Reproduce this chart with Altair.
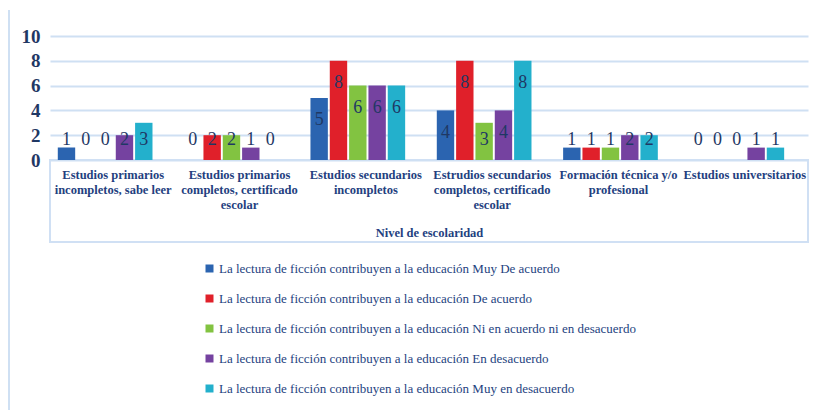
import altair as alt
import pandas as pd

categories = [
    "Estudios primarios|incompletos, sabe leer",
    "Estudios primarios|completos, certificado|escolar",
    "Estudios secundarios|incompletos",
    "Estrudios secundarios|completos, certificado|escolar",
    "Formación técnica y/o|profesional",
    "Estudios universitarios",
]
series = [
    "La lectura de ficción contribuyen a la educación Muy De acuerdo",
    "La lectura de ficción contribuyen a la educación De acuerdo",
    "La lectura de ficción contribuyen a la educación Ni en acuerdo ni en desacuerdo",
    "La lectura de ficción contribuyen a la educación En desacuerdo",
    "La lectura de ficción contribuyen a la educación Muy en desacuerdo",
]
muy_de_acuerdo = [1, 0, 5, 4, 1, 0]
de_acuerdo = [0, 2, 8, 8, 1, 0]
ni_ni = [0, 2, 6, 3, 1, 0]
en_desacuerdo = [2, 1, 6, 4, 2, 1]
muy_en_desacuerdo = [3, 0, 6, 8, 2, 1]
colors = ["#2B64B0", "#E0202A", "#82C341", "#7542A0", "#23B0CC"]
y_ticks = [0, 2, 4, 6, 8, 10]

values = [muy_de_acuerdo, de_acuerdo, ni_ni, en_desacuerdo, muy_en_desacuerdo]
rows = []
for s, vals in zip(series, values):
    for c, v in zip(categories, vals):
        rows.append({"cat": c, "serie": s, "valor": v})
df = pd.DataFrame(rows)

FONT = "Liberation Serif"
NAVY = "#1F3864"
TXT = "#243F80"
GRID = "#CFE0F3"

y_axis = alt.Axis(
    title=None, values=y_ticks, ticks=False, domain=False, labelOverlap=False,
    labelFont=FONT, labelFontSize=19, labelFontWeight="bold", labelColor=NAVY,
    labelPadding=10, gridColor=GRID, gridWidth=2,
)
y_scale = alt.Scale(domain=[0, 10], nice=False)

x_enc = alt.X(
    "cat:N", sort=categories,
    scale=alt.Scale(paddingInner=0.25, paddingOuter=0.125),
    axis=alt.Axis(
        title="Nivel de escolaridad", labelAngle=0, ticks=False, domain=False,
        labelExpr="split(datum.label, '|')", labelFont=FONT, labelFontSize=12.5,
        labelFontWeight="bold", labelColor=TXT, labelPadding=8, labelLimit=200,
        labelLineHeight=15,
        titleFont=FONT, titleFontSize=12.5, titleFontWeight="bold", titleColor=TXT,
        titleY=72, titleBaseline="middle",
    ),
)
xoff = alt.XOffset("serie:N", sort=series,
                   scale=alt.Scale(paddingInner=0.1, range=[-8, 86.7]))

bars = alt.Chart(df).mark_bar().encode(
    x=x_enc, xOffset=xoff,
    y=alt.Y("valor:Q", scale=y_scale, axis=y_axis),
    color=alt.Color(
        "serie:N", sort=series, scale=alt.Scale(domain=series, range=colors),
        legend=alt.Legend(
            title=None, orient="none", legendX=153, legendY=226, direction="vertical",
            symbolType="square", symbolSize=64, symbolStrokeWidth=0,
            labelFont=FONT, labelFontSize=13, labelColor=TXT, labelLimit=700,
            rowPadding=16, symbolOffset=0, labelOffset=3,
        ),
    ),
)

labels = alt.Chart(df).transform_calculate(
    pos="max(datum.valor - 1.8, 1.6)"
).mark_text(font=FONT, fontSize=18, color=NAVY, baseline="middle").encode(
    x=alt.X("cat:N", sort=categories), xOffset=alt.XOffset("serie:N", sort=series),
    y=alt.Y("pos:Q", scale=y_scale, axis=y_axis), text="valor:Q",
)

box = alt.Chart(df).mark_rect(fill=None, stroke=GRID, strokeWidth=1.5).encode(
    x=alt.value(0), x2=alt.value(758), y=alt.value(124), y2=alt.value(206)
)
leftline = alt.Chart(df).mark_rule(color=GRID, strokeWidth=2).encode(
    x=alt.value(-41), y=alt.value(-26), y2=alt.value(381)
)

chart = alt.layer(box, leftline, bars, labels).properties(
    width=758, height=124,
    autosize=alt.AutoSizeParams(type="none"),
    padding={"left": 42, "top": 28, "right": 5, "bottom": 250},
).configure_view(stroke=None).configure_axis(labelOverlap=False)

chart.save("out.html", embed_options={"renderer": "svg", "actions": False})
